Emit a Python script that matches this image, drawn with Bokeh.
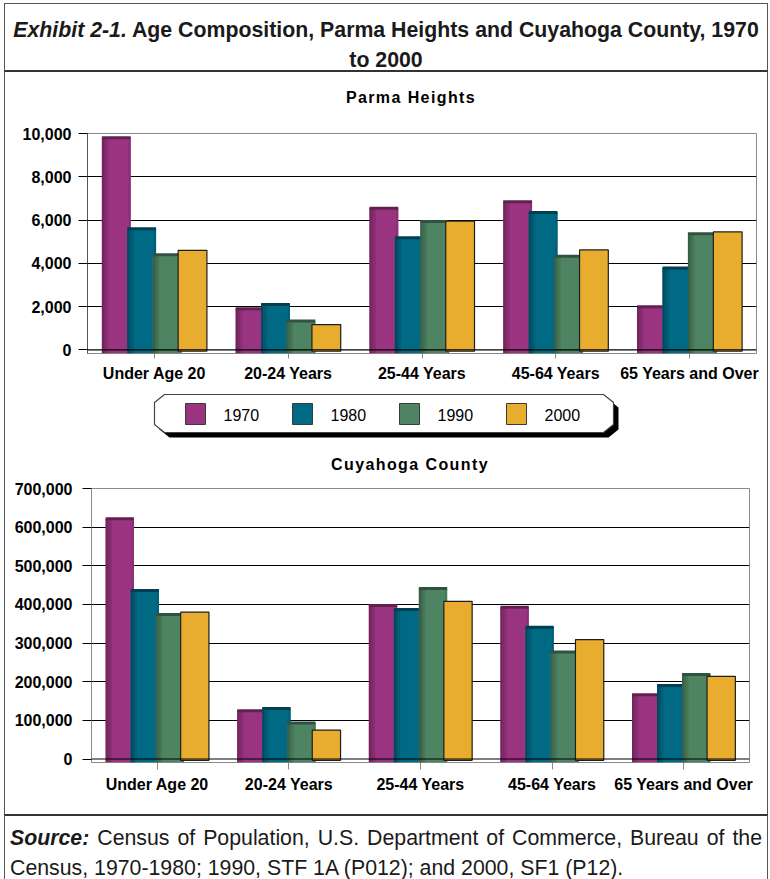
from bokeh.plotting import figure
from bokeh.models import (ColumnDataSource, FactorRange, Range1d, FixedTicker,
                          NumeralTickFormatter, Span, Div)
from bokeh.transform import dodge
from bokeh.layouts import column, row
from bokeh.embed import file_html
from bokeh.resources import INLINE
from bokeh.core.properties import value

# ---- data -------------------------------------------------------------
categories = ["Under Age 20", "20-24 Years", "25-44 Years", "45-64 Years", "65 Years and Over"]
years = ["1970", "1980", "1990", "2000"]

parma_1970 = [9800, 1900, 6550, 6850, 1990]
parma_1980 = [5600, 2100, 5180, 6350, 3780]
parma_1990 = [4400, 1330, 5930, 4330, 5370]
parma_2000 = [4600, 1170, 5950, 4620, 5450]

cuyahoga_1970 = [622000, 125000, 397000, 393000, 166000]
cuyahoga_1980 = [436000, 131000, 387000, 341000, 190000]
cuyahoga_1990 = [374000, 93000, 441000, 277000, 219000]
cuyahoga_2000 = [380000, 75000, 408000, 309000, 214000]

parma_ticks = [0, 2000, 4000, 6000, 8000, 10000]
cuyahoga_ticks = [0, 100000, 200000, 300000, 400000, 500000, 600000, 700000]

# ---- styling ----------------------------------------------------------
FONT = "Liberation Sans"
CSS_FONT = "font-family:'Liberation Sans',Arial,sans-serif;"
BASE = {"1970": "#9A3481", "1980": "#006A85", "1990": "#4F8462", "2000": "#E8AD2F"}
DARK = {"1970": "#62204F", "1980": "#003E52", "1990": "#2F5340", "2000": "#222222"}
OFFSETS = [-0.285, -0.095, 0.095, 0.285]
BAR_W = 0.215


def mix(c1, c2, t):
    a = [int(c1[i:i + 2], 16) for i in (1, 3, 5)]
    b = [int(c2[i:i + 2], 16) for i in (1, 3, 5)]
    return "#" + "".join(f"{round(x + (y - x) * t):02x}" for x, y in zip(a, b))


def chart_title(text, height, pad_top, center_x):
    return Div(text=(f'<div style="margin-left:{center_x - 5 - 110}px;width:220px;'
                     f'padding-top:{pad_top}px;line-height:30px;text-align:center;'
                     f'{CSS_FONT}font-weight:bold;font-size:16px;letter-spacing:1.4px;'
                     f'color:#000;">{text}</div>'),
               width=762, height=height, margin=0)


def bar_chart(series, ticks, y_top, bar_base, height, borders,
              x_tick_out, y_standoff, axis_color):
    left, right, top, bottom = borders
    p = figure(x_range=FactorRange(factors=categories, range_padding=0),
               y_range=Range1d(bar_base * 1.05, y_top),
               width=762, height=height,
               min_border_left=left, min_border_right=right,
               min_border_top=top, min_border_bottom=bottom,
               toolbar_location=None, output_backend="svg")
    p.frame_align = False
    p.background_fill_color = "white"
    p.border_fill_color = "white"
    p.outline_line_color = "#8a8a8a"

    for i, yr in enumerate(years):
        src = ColumnDataSource(dict(cat=categories, val=series[i]))
        off = OFFSETS[i]
        base, dark = BASE[yr], DARK[yr]
        if yr == "2000":
            p.vbar(x=dodge("cat", off, range=p.x_range), top="val", bottom=bar_base * 0.4,
                   width=BAR_W, source=src, fill_color=base,
                   line_color="#1e1e1e", line_width=1.2)
            continue
        p.vbar(x=dodge("cat", off, range=p.x_range), top="val", bottom=bar_base,
               width=BAR_W, source=src, fill_color=base, line_color=None)
        # darker left edge and a faint right edge give the bars their rounded look
        strip = BAR_W * 0.075
        for k, t in enumerate([0.75, 0.5, 0.28]):
            p.vbar(x=dodge("cat", off - BAR_W / 2 + (k + 0.5) * strip, range=p.x_range),
                   top="val", bottom=bar_base, width=strip, source=src,
                   fill_color=mix(base, dark, t), line_color=None)
        p.vbar(x=dodge("cat", off + BAR_W / 2 - strip / 2, range=p.x_range),
               top="val", bottom=bar_base, width=strip, source=src,
               fill_color=mix(base, dark, 0.25), line_color=None)
        # dark cap along the top of each bar
        p.rect(x=dodge("cat", off, range=p.x_range), y="val", width=BAR_W,
               height=3, height_units="screen", source=src,
               fill_color=dark, line_color=None)

    p.add_layout(Span(location=0, dimension="width", line_color="black", line_width=1.2))

    p.xgrid.grid_line_color = None
    p.ygrid.ticker = FixedTicker(ticks=ticks[1:-1])
    p.ygrid.grid_line_color = "black"
    p.ygrid.grid_line_width = 1

    p.yaxis.ticker = FixedTicker(ticks=ticks)
    p.yaxis.formatter = NumeralTickFormatter(format="0,0")
    p.yaxis.axis_line_color = axis_color
    p.yaxis.major_tick_line_color = "black"
    p.yaxis.major_tick_out = 9
    p.yaxis.major_tick_in = 0
    p.yaxis.minor_tick_line_color = None
    p.yaxis.major_label_standoff = y_standoff

    p.xaxis.axis_line_color = None
    p.xaxis.major_tick_line_color = "#8a8a8a"
    p.xaxis.major_tick_out = x_tick_out
    p.xaxis.major_tick_in = 0
    p.xaxis.major_label_standoff = 6

    for ax in (p.xaxis, p.yaxis):
        ax.major_label_text_font = FONT
        ax.major_label_text_font_style = "bold"
        ax.major_label_text_font_size = "16px"
        ax.major_label_text_color = "black"
    return p


top_title = chart_title("Parma Heights", 43, 11, 411)
top = bar_chart([parma_1970, parma_1980, parma_1990, parma_2000],
                parma_ticks, 10000, -160, 269, (82, 11, 18, 31), 5, 7, "#555555")

bottom_title = chart_title("Cuyahoga County", 30, 5, 410)
bottom = bar_chart([cuyahoga_1970, cuyahoga_1980, cuyahoga_1990, cuyahoga_2000],
                   cuyahoga_ticks, 700000, -8600, 339, (86, 18, 13, 52), 7, 10, "#8a8a8a")

# ---- legend strip -------------------------------------------------------
leg = figure(width=762, height=61, x_range=Range1d(0, 762), y_range=Range1d(61, 0),
             x_axis_location=None, y_axis_location=None, min_border=0,
             toolbar_location=None, output_backend="svg")
leg.frame_align = False
leg.outline_line_color = None
leg.grid.grid_line_color = None
leg.background_fill_color = "white"
leg.border_fill_color = "white"

bx0, bx1, by0, by1, cx, cy = 149, 608, 10, 48, 10, 8
box_x = [bx0 + cx, bx1 - cx, bx1, bx1, bx1 - cx, bx0 + cx, bx0, bx0]
box_y = [by0, by0, by0 + cy, by1 - cy, by1, by1, by1 - cy, by0 + cy]
leg.patch([x + 5 for x in box_x], [y + 5 for y in box_y], fill_color="black", line_color=None)
leg.patch(box_x, box_y, fill_color="white", line_color="#444444", line_width=1.2)

sq_x = [190 + 107 * i for i in range(len(years))]
leg.rect(x=sq_x, y=[29.5] * len(years), width=20, height=21,
         fill_color=[BASE[y] for y in years], line_color="#3a3a3a", line_width=1)
leg.text(x=[x + 28 for x in sq_x], y=[30] * len(years), text=years,
         text_font=value(FONT), text_font_size="16px", text_baseline="middle",
         text_color="black")

# ---- page frame, heading and note -----------------------------------------
heading = Div(
    text=('<div style="box-sizing:border-box;margin-left:4px;margin-top:3px;width:764px;'
          'height:69px;border:1px solid #555;border-bottom:2px solid #333;'
          f'{CSS_FONT}font-weight:bold;'
          'font-size:21.3px;line-height:30px;text-align:center;padding-top:11px;'
          'color:#1a1a1a;"><i>Exhibit 2-1.</i> Age Composition, Parma Heights and '
          'Cuyahoga County, 1970<br>to 2000</div>'),
    width=770, height=72, margin=0)

note = Div(
    text=('<div style="box-sizing:border-box;margin-left:4px;width:764px;height:65px;'
          'border-left:1px solid #555;border-right:1px solid #555;border-top:2px solid #333;'
          f'padding:7px 5px 0 5px;{CSS_FONT}'
          'font-size:21.3px;line-height:30px;color:#1a1a1a;">'
          '<div style="text-align:justify;text-align-last:justify;white-space:nowrap;">'
          '<b><i>Source:</i></b> Census of Population, U.S. Department of Commerce, '
          'Bureau of the</div>'
          '<div style="white-space:nowrap;">Census, 1970-1980; 1990, STF 1A (P012); '
          'and 2000, SF1 (P12).</div></div>'),
    width=770, height=65, margin=0)

charts_h = 43 + 269 + 61 + 30 + 339


def vline():
    return Div(text=f'<div style="width:1px;height:{charts_h}px;background:#555;"></div>',
               width=1, height=charts_h, margin=0)


gap = Div(text="", width=4, height=charts_h, margin=0)
stack = column(top_title, top, leg, bottom_title, bottom, spacing=0)
middle = row(gap, vline(), stack, vline(), spacing=0)
page = column(heading, middle, note, spacing=0)

open("out.html", "w").write(file_html(page, INLINE, title="Age Composition"))
